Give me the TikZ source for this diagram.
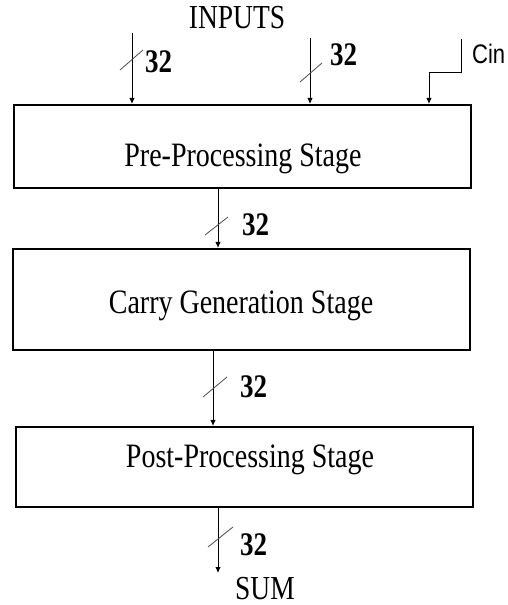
\documentclass[tikz,border=0pt]{standalone}
\usepackage{fontspec}
\usepackage{graphicx}
\setmainfont{Liberation Serif}
\newfontfamily\cinfont{Liberation Sans}
\usetikzlibrary{arrows.meta}
\newcommand\vstretch[1]{\scalebox{1}[1.22]{#1}}
\tikzset{
  box/.style={draw, line width=2.2pt, minimum width=457pt, inner sep=0pt},
  arr/.style={line width=0.9pt, -{Latex[length=6pt,width=5.5pt]}},
  slash/.style={line width=0.8pt, draw=black!70},
  stagetxt/.style={anchor=base, inner sep=0pt, font=\fontsize{28}{30}\selectfont},
  bus/.style={anchor=base west, inner sep=0pt, font=\fontsize{27}{29}\selectfont\bfseries},
  iotxt/.style={anchor=base, inner sep=0pt, font=\fontsize{27.5}{29}\selectfont}
}
\begin{document}
\begin{tikzpicture}[x=1pt,y=-1pt]
\useasboundingbox (0,0) rectangle (508,605);
% boxes
\node[box, minimum height=83pt] (b1) at (242.5,146.5) {};
\node[box, minimum height=101pt] (b2) at (241.5,299.5) {};
\node[box, minimum height=80pt] (b3) at (244.5,467) {};
% texts
\node[stagetxt] (t1) at (243,166) {\vstretch{Pre-Processing Stage}};
\node[stagetxt] (t2) at (241,313) {\vstretch{Carry Generation Stage}};
\node[stagetxt] (t3) at (250,467) {\vstretch{Post-Processing Stage}};
\node[iotxt] (inputs) at (237,28) {\vstretch{INPUTS}};
\node[iotxt] (sum) at (265,599) {\vstretch{SUM}};
\node[anchor=base west, inner sep=0pt, font=\fontsize{22}{24}\cinfont] (cin) at (472,63) {\vstretch{Cin}};
\node[bus] (n1) at (145,72) {\vstretch{32}};
\node[bus] (n2) at (330,65) {\vstretch{32}};
\node[bus] (n3) at (242,235) {\vstretch{32}};
\node[bus] (n4) at (240,397) {\vstretch{32}};
\node[bus] (n5) at (240,555) {\vstretch{32}};
% input arrows
\coordinate (i1) at (132,33);
\coordinate (i2) at (310,38);
\coordinate (c0) at (461,39);
\coordinate (c1) at (461,72);
\coordinate (c2) at (429,72);
\draw[arr] (i1) -- (i1 |- b1.north);
\draw[arr] (i2) -- (i2 |- b1.north);
\draw[arr] (c0) -- (c1) -- (c2) -- (c2 |- b1.north);
% inter-stage arrows
\coordinate (m1) at (218,0);
\coordinate (m2) at (213,0);
\coordinate (m3) at (218,0);
\draw[arr] (m1 |- b1.south) -- (m1 |- b2.north);
\draw[arr] (m2 |- b2.south) -- (m2 |- b3.north);
\coordinate (out) at (218,573);
\draw[arr] (m3 |- b3.south) -- (out);
% bus slashes
\draw[slash] (120,70) -- (143,50);
\draw[slash] (300,82) -- (322,63);
\draw[slash] (205,235) -- (228,217);
\draw[slash] (203,397) -- (227,377);
\draw[slash] (208,547) -- (233,527);
\end{tikzpicture}
\end{document}
